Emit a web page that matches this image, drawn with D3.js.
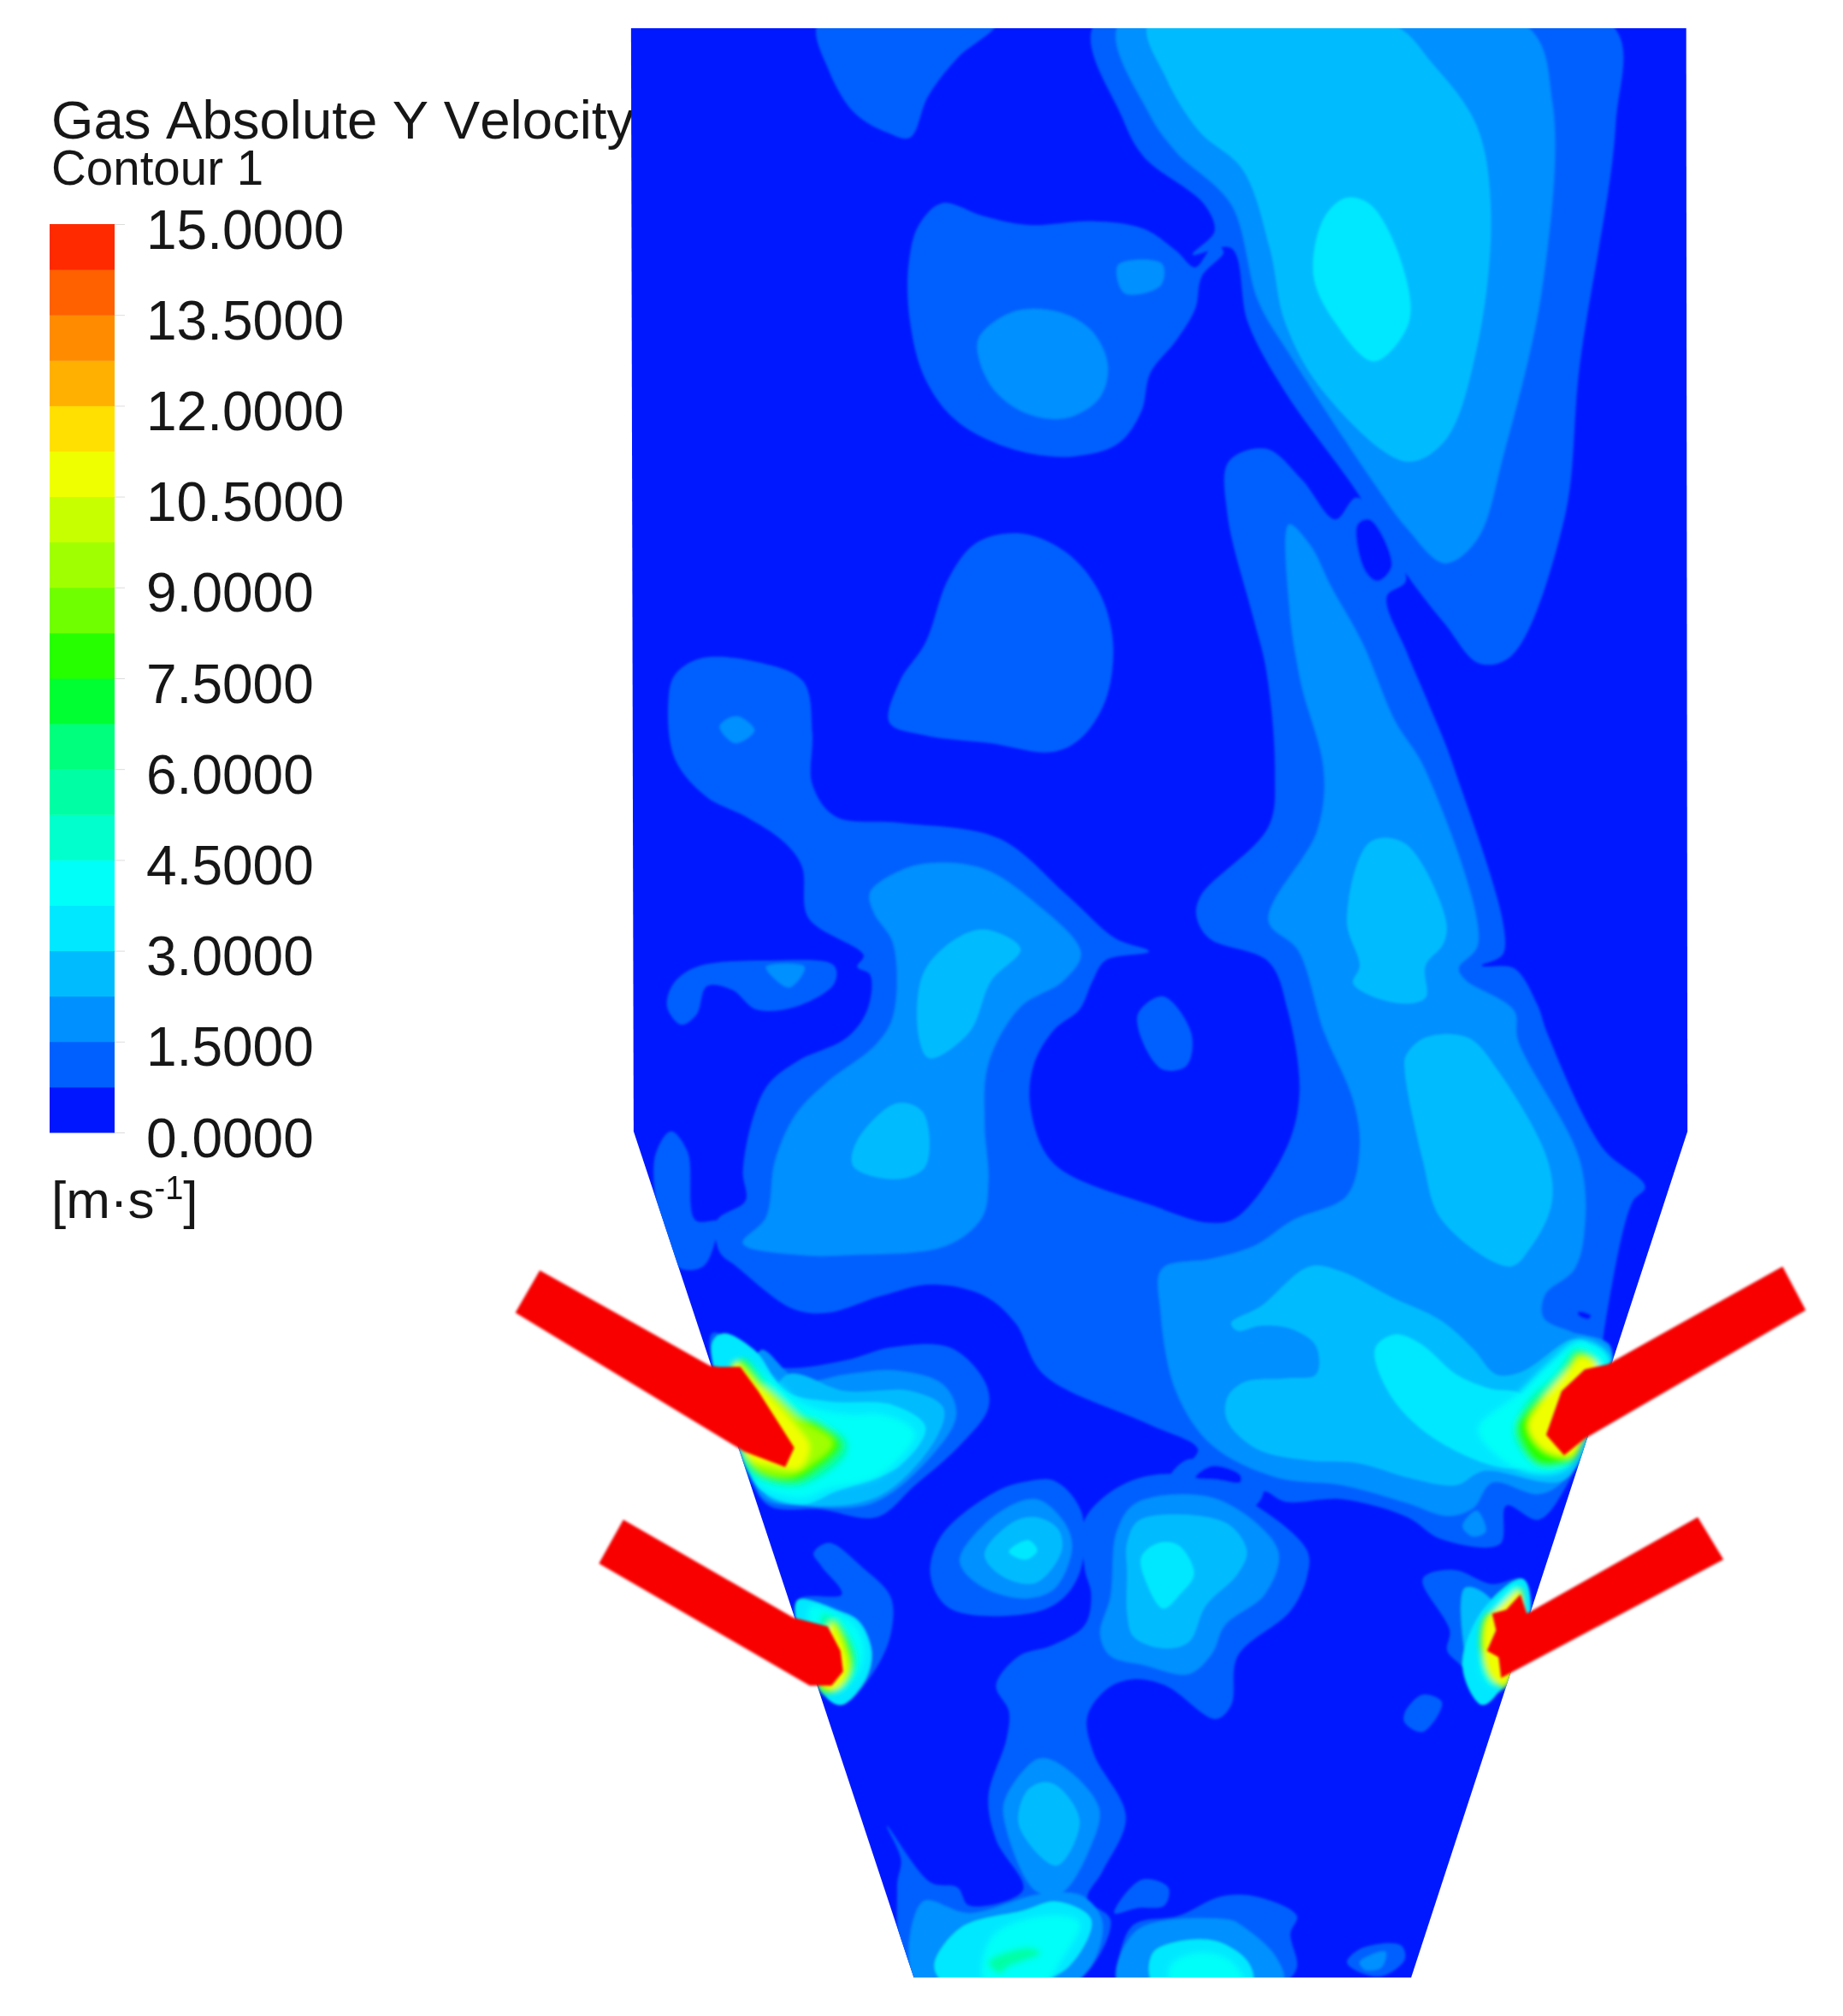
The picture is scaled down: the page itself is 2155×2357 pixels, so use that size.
<!DOCTYPE html>
<html>
<head>
<meta charset="utf-8">
<script src="https://cdn.jsdelivr.net/npm/d3@7"></script>
<style>
    body { margin: 0; background: #fff; }
    text { font-family: "Liberation Sans", Arial, sans-serif; fill: #161616; font-kerning: none; }
</style>
</head>
<body>
<div id="container"></div>
<script>
const title = 'Gas Absolute Y Velocity';
const subtitle = 'Contour 1';
const tickValues = [0, 1.5, 3, 4.5, 6, 7.5, 9, 10.5, 12, 13.5, 15];

// one colour per 0.75 m/s band, from 0 up to 15
const bandColors = ['#0018ff', '#0060ff', '#0090ff', '#00bcff', '#00e8ff', '#00fff8', '#00ffcc', '#00ffa4',
    '#00ff7c', '#00ff30', '#28ff00', '#70ff00', '#a0ff00', '#c8ff00', '#f0ff00', '#ffe000',
    '#ffb000', '#ff8c00', '#ff6000', '#ff2a00'];
const inletColor = '#f80000';

const furnace = [[491, 22], [1312, 22], [1313, 880], [1098, 1538], [711, 1538], [493, 880]];

const band1 = [
    [[637, 18], [775, 18], [745, 45], [722, 75], [708, 107], [690, 103], [665, 88], [645, 55]],
    [[852, 18], [873, 91], [890, 122], [937, 159], [945, 180], [928, 198], [958, 193], [971, 251], [1000, 305], [1056, 383], [1094, 446], [1124, 485], [1151, 516], [1176, 510], [1217, 404], [1229, 285], [1257, 98], [1253, 18]],
    [[733, 158], [765, 168], [800, 175], [850, 172], [890, 178], [915, 195], [930, 208], [945, 190], [952, 196], [935, 215], [930, 240], [915, 265], [895, 290], [888, 320], [870, 345], [835, 355], [790, 350], [745, 328], [720, 295], [708, 250], [707, 205], [715, 175]],
    [[760, 422], [795, 415], [830, 430], [855, 460], [866, 500], [860, 545], [840, 575], [818, 585], [770, 578], [720, 572], [692, 562], [700, 530], [720, 500], [738, 450]],
    [[545, 512], [590, 515], [625, 530], [632, 570], [632, 610], [650, 635], [700, 640], [777, 652], [830, 696], [868, 730], [894, 740], [860, 747], [850, 763], [840, 785], [820, 801], [804, 829], [802, 863], [820, 905], [898, 938], [941, 951], [962, 947], [1000, 895], [1011, 851], [1002, 786], [987, 748], [941, 730], [931, 713], [934, 697], [987, 643], [992, 599], [985, 520], [975, 480], [955, 400], [956, 359], [985, 349], [1013, 373], [1039, 404], [1056, 387], [1094, 451], [1079, 464], [1094, 506], [1111, 546], [1132, 599], [1170, 741], [1153, 751], [1178, 753], [1196, 781], [1204, 804], [1247, 893], [1280, 923], [1270, 935], [1249, 1029], [1240, 1100], [1218, 1157], [1197, 1182], [1172, 1171], [1167, 1201], [1121, 1197], [1095, 1180], [1044, 1166], [1000, 1168], [983, 1160], [975, 1170], [925, 1142], [932, 1127], [892, 1107], [812, 1069], [790, 1029], [766, 1008], [725, 999], [685, 1008], [644, 1021], [617, 1018], [573, 985], [560, 974], [558, 949], [580, 934], [578, 911], [586, 869], [598, 843], [621, 825], [659, 807], [675, 785], [677, 758], [667, 752], [672, 743], [629, 714], [624, 674], [610, 655], [580, 635], [550, 620], [525, 590], [520, 545], [525, 525]],
    [[542, 752], [601, 747], [649, 751], [649, 765], [619, 783], [588, 785], [570, 770], [550, 767], [542, 789], [530, 797], [519, 783], [524, 765]],
    [[509, 903], [522, 880], [535, 896], [541, 949], [560, 950], [558, 960], [547, 985], [527, 985]],
    [[885, 790], [905, 775], [927, 804], [923, 829], [903, 831]],
    [[554, 1037], [603, 1063], [658, 1058], [693, 1048], [739, 1048], [766, 1074], [769, 1095], [747, 1124], [712, 1155], [682, 1180], [639, 1174], [598, 1171], [582, 1145]],
    [[633, 1208], [645, 1200], [671, 1219], [693, 1242], [693, 1271], [680, 1300], [655, 1326], [641, 1318], [620, 1245], [655, 1240], [639, 1218]],
    [[800, 1152], [821, 1152], [841, 1175], [841, 1220], [826, 1244], [800, 1255], [739, 1251], [724, 1226], [732, 1195], [775, 1160]],
    [[844, 1182], [877, 1153], [923, 1147], [974, 1169], [1017, 1206], [1017, 1226], [1004, 1253], [963, 1288], [958, 1326], [946, 1337], [907, 1311], [882, 1306], [862, 1313], [846, 1335], [851, 1364], [876, 1413], [858, 1455], [846, 1477], [864, 1493], [849, 1530], [831, 1542], [711, 1542], [698, 1468], [701, 1446], [690, 1420], [724, 1464], [745, 1468], [754, 1482], [796, 1470], [775, 1431], [769, 1397], [783, 1353], [785, 1331], [775, 1311], [793, 1288], [818, 1280], [844, 1264], [849, 1240], [844, 1220]],
    [[925, 1135], [983, 1155], [975, 1172], [925, 1150], [910, 1150]],
    [[867, 1488], [888, 1462], [909, 1468], [906, 1482], [885, 1484]],
    [[870, 1526], [882, 1497], [917, 1490], [950, 1475], [977, 1475], [1009, 1490], [1004, 1504], [1009, 1530], [998, 1542], [870, 1542]],
    [[1048, 1526], [1060, 1515], [1090, 1513], [1093, 1524], [1075, 1537], [1054, 1532]],
    [[1107, 1228], [1131, 1221], [1161, 1232], [1185, 1228], [1191, 1253], [1168, 1313], [1153, 1326], [1138, 1297], [1126, 1284], [1128, 1268]],
    [[1093, 1332], [1107, 1318], [1122, 1324], [1107, 1347], [1093, 1340]]
];

// pockets of slow gas left inside band 1
const band1Holes = [
    [[1056, 408], [1066, 404], [1083, 440], [1072, 452], [1062, 444]],
    [[1228, 1020], [1238, 1023], [1236, 1026], [1228, 1023]],
    [[930, 1149], [943, 1140], [965, 1147], [965, 1153], [948, 1151]]
];

const band2 = [
    [[871, 18], [894, 88], [915, 118], [958, 159], [979, 234], [1005, 278], [1072, 380], [1094, 410], [1124, 438], [1149, 420], [1170, 353], [1200, 223], [1208, 81], [1185, 18]],
    [[790, 242], [825, 243], [850, 258], [862, 285], [855, 310], [830, 325], [800, 322], [775, 305], [762, 280], [762, 262]],
    [[870, 206], [904, 205], [903, 222], [875, 228]],
    [[560, 565], [573, 557], [587, 568], [572, 578]],
    [[596, 752], [626, 752], [614, 768]],
    [[677, 694], [703, 676], [728, 671], [766, 676], [804, 701], [841, 741], [827, 763], [794, 783], [769, 827], [766, 874], [769, 918], [764, 947], [736, 969], [664, 976], [621, 976], [578, 967], [596, 947], [603, 903], [619, 867], [642, 843], [682, 812], [695, 790], [695, 734], [680, 710]],
    [[1003, 408], [1020, 425], [1035, 455], [1060, 500], [1085, 560], [1109, 599], [1150, 734], [1135, 753], [1140, 762], [1178, 786], [1181, 809], [1229, 902], [1233, 954], [1225, 987], [1202, 1007], [1201, 1025], [1223, 1036], [1253, 1047], [1240, 1100], [1217, 1151], [1197, 1162], [1161, 1153], [1146, 1173], [1126, 1179], [1095, 1169], [1044, 1155], [993, 1149], [943, 1124], [915, 1082], [903, 1020], [904, 987], [943, 979], [976, 969], [1006, 949], [1048, 930], [1058, 893], [1053, 856], [1030, 802], [1010, 739], [987, 716], [1025, 646], [1030, 599], [1012, 530], [1003, 470]],
    [[592, 1050], [622, 1074], [658, 1069], [698, 1066], [734, 1077], [744, 1100], [725, 1132], [679, 1169], [625, 1171], [592, 1163]],
    [[747, 1211], [775, 1178], [806, 1166], [828, 1184], [834, 1204], [821, 1235], [800, 1243], [770, 1237], [750, 1222]],
    [[869, 1191], [884, 1169], [940, 1164], [979, 1186], [995, 1209], [984, 1240], [953, 1264], [943, 1286], [925, 1302], [890, 1295], [864, 1288], [856, 1271], [864, 1242]],
    [[808, 1368], [826, 1373], [855, 1406], [849, 1435], [825, 1473], [805, 1470], [781, 1413], [783, 1397]],
    [[718, 1479], [754, 1488], [810, 1473], [843, 1475], [858, 1497], [837, 1542], [713, 1542]],
    [[885, 1501], [956, 1493], [965, 1497], [992, 1521], [998, 1542], [870, 1542]],
    [[1058, 1526], [1078, 1518], [1075, 1530], [1062, 1532]],
    [[1138, 1187], [1149, 1175], [1156, 1191], [1146, 1195]]
];

const band3 = [
    [[894, 18], [907, 60], [933, 102], [967, 132], [988, 193], [1000, 251], [1030, 305], [1094, 359], [1124, 343], [1149, 271], [1160, 166], [1149, 98], [1115, 50], [1081, 18]],
    [[741, 732], [766, 723], [794, 738], [771, 763], [754, 803], [723, 823], [715, 807], [718, 758]],
    [[698, 858], [718, 865], [720, 907], [698, 917], [664, 907], [667, 887]],
    [[1066, 655], [1093, 656], [1125, 716], [1123, 734], [1109, 751], [1109, 776], [1086, 780], [1053, 765], [1058, 751], [1048, 716]],
    [[1109, 807], [1142, 807], [1165, 832], [1204, 902], [1207, 937], [1191, 970], [1175, 985], [1122, 949], [1107, 902], [1093, 832], [1094, 821]],
    [[958, 1029], [981, 1016], [1019, 985], [1044, 989], [1083, 1009], [1121, 1027], [1146, 1049], [1164, 1069], [1184, 1067], [1223, 1042], [1235, 1045], [1240, 1100], [1217, 1151], [1154, 1144], [1133, 1155], [1095, 1149], [1057, 1138], [1019, 1136], [978, 1127], [955, 1105], [955, 1087], [968, 1075], [1001, 1072], [1024, 1069], [1024, 1047], [1006, 1034], [981, 1031], [963, 1035]],
    [[611, 1070], [658, 1082], [709, 1082], [734, 1095], [728, 1119], [685, 1163], [630, 1171], [595, 1161]],
    [[766, 1209], [788, 1184], [806, 1180], [823, 1189], [826, 1206], [806, 1231], [780, 1226]],
    [[877, 1200], [887, 1182], [953, 1184], [970, 1206], [963, 1224], [938, 1249], [925, 1277], [905, 1282], [882, 1273], [877, 1255], [877, 1224]],
    [[813, 1386], [825, 1391], [840, 1417], [822, 1451], [793, 1420], [799, 1393]],
    [[1140, 1235], [1161, 1245], [1172, 1310], [1153, 1320], [1142, 1296]]
];

const band4 = [
    [[1047, 154], [1066, 159], [1090, 203], [1096, 251], [1069, 281], [1039, 251], [1022, 214], [1030, 170]],
    [[1070, 1049], [1085, 1038], [1105, 1045], [1133, 1069], [1159, 1080], [1184, 1085], [1200, 1130], [1177, 1142], [1121, 1122], [1083, 1087]],
    [[554, 1045], [563, 1037], [587, 1050], [611, 1082], [644, 1090], [695, 1093], [720, 1110], [700, 1140], [650, 1160], [625, 1170], [595, 1161], [582, 1142]],
    [[785, 1207], [800, 1198], [807, 1206], [798, 1213]],
    [[888, 1211], [902, 1200], [917, 1202], [929, 1224], [918, 1240], [905, 1251], [892, 1231]],
    [[727, 1528], [748, 1499], [796, 1486], [822, 1479], [849, 1493], [831, 1530], [800, 1542], [735, 1542]],
    [[897, 1519], [917, 1510], [947, 1510], [971, 1526], [974, 1542], [897, 1542]],
    [[620, 1245], [652, 1253], [668, 1261], [678, 1284], [674, 1305], [655, 1326], [641, 1318]],
    [[1185, 1228], [1191, 1253], [1168, 1313], [1153, 1326], [1138, 1297], [1153, 1253]]
];

const band5 = [
    [[1230, 1042], [1253, 1056], [1236, 1100], [1220, 1142], [1184, 1144], [1150, 1112], [1180, 1085], [1205, 1060]],
    [[575, 1057], [600, 1072], [625, 1092], [660, 1100], [685, 1100], [706, 1108], [712, 1116], [685, 1147], [644, 1158], [625, 1165], [595, 1158], [582, 1142]],
    [[772, 1506], [813, 1490], [840, 1495], [825, 1526], [813, 1542], [766, 1542]],
    [[911, 1528], [932, 1519], [956, 1524], [968, 1542], [911, 1542]],
    [[630, 1250], [652, 1255], [668, 1268], [672, 1290], [660, 1312], [645, 1316]],
    [[1180, 1232], [1186, 1255], [1162, 1312], [1152, 1300], [1160, 1255]]
];

const band7 = [
    [[1226, 1049], [1237, 1055], [1229, 1126], [1218, 1138], [1196, 1140], [1178, 1116], [1188, 1090], [1210, 1069]],
    [[579, 1057], [600, 1079], [625, 1100], [658, 1119], [658, 1132], [625, 1155], [598, 1153], [580, 1140]],
    [[769, 1526], [799, 1515], [810, 1519], [784, 1530], [778, 1535]],
    [[640, 1255], [660, 1272], [666, 1295], [650, 1314]],
    [[1178, 1240], [1160, 1262], [1158, 1300], [1168, 1308]]
];

const band10 = [
    [[1228, 1051], [1242, 1058], [1229, 1126], [1223, 1137], [1195, 1138], [1180, 1109], [1188, 1096], [1213, 1074]],
    [[576, 1057], [598, 1082], [617, 1100], [636, 1105], [655, 1124], [630, 1148], [617, 1153], [592, 1148], [580, 1134]],
    [[649, 1259], [663, 1282], [663, 1303], [649, 1316], [638, 1314]],
    [[1183, 1235], [1166, 1250], [1155, 1258], [1152, 1284], [1159, 1306], [1172, 1312]]
];

const band12 = [
    [[590, 1078], [625, 1105], [648, 1122], [630, 1140], [611, 1148], [585, 1138]]
];

const band14 = [
    [[1229, 1055], [1243, 1062], [1229, 1126], [1220, 1133], [1200, 1127], [1189, 1109], [1200, 1089], [1223, 1062]],
    [[571, 1059], [592, 1079], [622, 1112], [630, 1125], [622, 1142], [600, 1140], [582, 1134]],
    [[647, 1262], [658, 1284], [660, 1300], [650, 1314], [640, 1312]],
    [[1183, 1237], [1166, 1250], [1157, 1258], [1154, 1284], [1161, 1305], [1172, 1311]]
];

const inlets = [
    [[420, 988], [552, 1062], [560, 1063], [576, 1063], [590, 1082], [618, 1126], [611, 1141], [579, 1129], [401, 1021]],
    [[485, 1182], [617, 1258], [644, 1265], [654, 1284], [656, 1300], [647, 1311], [630, 1311], [466, 1216]],
    [[1387, 985], [1405, 1019], [1233, 1119], [1217, 1132], [1203, 1116], [1215, 1082], [1233, 1065], [1251, 1061]],
    [[1321, 1180], [1341, 1213], [1168, 1305], [1166, 1289], [1157, 1284], [1164, 1268], [1161, 1255], [1172, 1252], [1183, 1240], [1188, 1255]]
];

// paint order, low speed first; the hot cores around the inlets fade more softly
const layers = [
    { band: 1, regions: band1 },
    { band: 0, regions: band1Holes },
    { band: 2, regions: band2 },
    { band: 3, regions: band3 },
    { band: 4, regions: band4 },
    { band: 5, regions: band5, hot: true },
    { band: 7, regions: band7, hot: true },
    { band: 10, regions: band10, hot: true },
    { band: 12, regions: band12, hot: true },
    { band: 14, regions: band14, hot: true }
];

const width = 2155;
const height = 2357;

const x = d3.scaleLinear().domain([0, 1434]).range([0, width]);
const y = d3.scaleLinear().domain([0, 1568]).range([0, height]);

const outline = d3.line().x((d) => x(d[0])).y((d) => y(d[1])).curve(d3.curveCatmullRomClosed.alpha(0.5));
const straight = d3.line().x((d) => x(d[0])).y((d) => y(d[1])).curve(d3.curveLinearClosed);

const svg = d3.select('#container').append('svg')
    .attr('width', width)
    .attr('height', height)
    .style('display', 'block');

const defs = svg.append('defs');
defs.append('clipPath').attr('id', 'furnace-clip')
    .append('path').attr('d', straight(furnace));
defs.append('filter').attr('id', 'soft').attr('x', '-5%').attr('y', '-5%').attr('width', '110%').attr('height', '110%')
    .append('feGaussianBlur').attr('stdDeviation', 1.6);
defs.append('filter').attr('id', 'hot').attr('x', '-5%').attr('y', '-5%').attr('width', '110%').attr('height', '110%')
    .append('feGaussianBlur').attr('stdDeviation', 3.5);
defs.append('filter').attr('id', 'soft-text')
    .append('feGaussianBlur').attr('stdDeviation', 0.7);

// legend
const legend = svg.append('g').attr('filter', 'url(#soft-text)');
const legendScale = d3.scaleLinear().domain([0, 15]).range([1324, 262]);
const bandStep = 15 / bandColors.length;
const barLeft = 58;
const barWidth = 76;

legend.selectAll('rect').data(bandColors).enter().append('rect')
    .attr('x', barLeft)
    .attr('width', barWidth)
    .attr('y', (d, i) => legendScale((i + 1) * bandStep))
    .attr('height', (d, i) => legendScale(i * bandStep) - legendScale((i + 1) * bandStep) + 0.5)
    .style('fill', (d) => d);

const axis = d3.axisRight(legendScale)
    .tickValues(tickValues)
    .tickFormat(d3.format('.4f'))
    .tickSize(12)
    .tickPadding(25);

const axisGroup = legend.append('g')
    .attr('transform', `translate(${barLeft + barWidth} 0)`)
    .call(axis);
axisGroup.select('.domain').remove();
axisGroup.selectAll('line').style('stroke', '#dcdcdc');
axisGroup.selectAll('text')
    .attr('dy', 28)
    .style('font-size', '64px')
    .style('font-family', '"Liberation Sans", Arial, sans-serif')
    .style('fill', '#161616');

legend.append('text').attr('x', 60).attr('y', 162).style('font-size', '63.5px').text(title);
legend.append('text').attr('x', 60).attr('y', 216).style('font-size', '56.5px').text(subtitle);

const unit = legend.append('text').attr('x', 60).attr('y', 1424).style('font-size', '62px');
unit.append('tspan').text('[m·s');
unit.append('tspan').attr('dy', -22).style('font-size', '38px').text('-1');
unit.append('tspan').attr('dy', 22).text(']');

// contour field
svg.append('path')
    .attr('d', straight(furnace))
    .style('fill', bandColors[0]);

const field = svg.append('g').attr('clip-path', 'url(#furnace-clip)');
const coolField = field.append('g').attr('filter', 'url(#soft)');
const hotField = field.append('g').attr('filter', 'url(#hot)');

layers.forEach((layer) => {
    (layer.hot ? hotField : coolField).append('g').selectAll('path').data(layer.regions).enter().append('path')
        .attr('d', outline)
        .style('fill', bandColors[layer.band]);
});

// air inlets sit on top and run outside the furnace wall
svg.append('g').attr('filter', 'url(#soft)')
    .selectAll('path').data(inlets).enter().append('path')
    .attr('d', straight)
    .style('fill', inletColor);
</script>
</body>
</html>
